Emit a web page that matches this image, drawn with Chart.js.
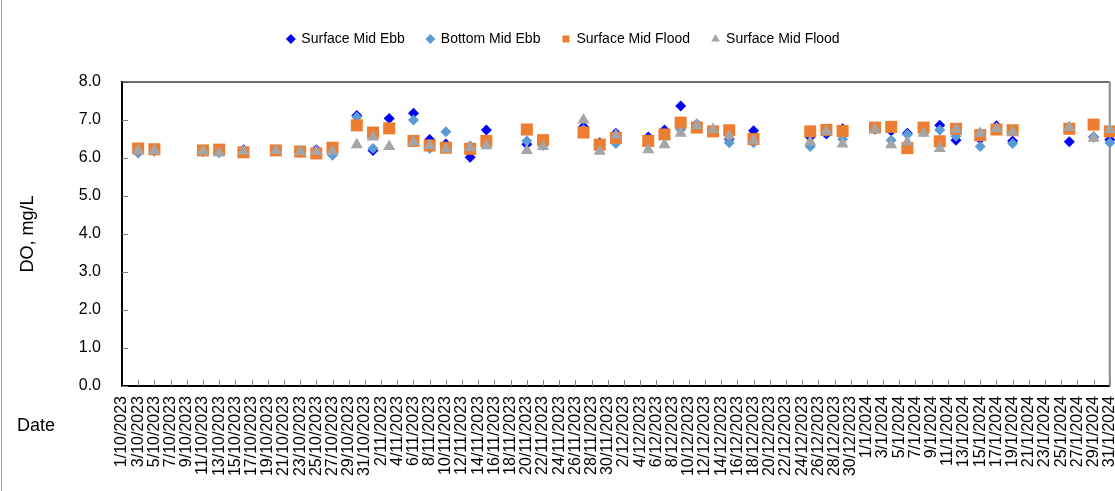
<!DOCTYPE html>
<html>
<head>
<meta charset="utf-8">
<script src="https://cdn.jsdelivr.net/npm/chart.js@4.4.1/dist/chart.umd.min.js"></script>
<style>
  html, body { margin: 0; padding: 0; background: #fff; overflow: hidden; }
  #wrap { position: relative; width: 1139px; height: 491px; }
</style>
</head>
<body>
<div id="wrap"><canvas id="doChart"></canvas></div>
<script>
// one category per day, 1/10/2023 .. 31/1/2024 (labels shown every 2nd day)
const axisStart = new Date(2023, 9, 1);
const axisEnd = new Date(2024, 0, 31);
const dayLabels = [];
for (let d = new Date(axisStart); d <= axisEnd; d.setDate(d.getDate() + 1)) {
    dayLabels.push(d.getDate() + '/' + (d.getMonth() + 1) + '/' + d.getFullYear());
}

const sampleDates = [
    '3/10/2023', '5/10/2023', '11/10/2023', '13/10/2023', '16/10/2023', '20/10/2023',
    '23/10/2023', '25/10/2023', '27/10/2023', '30/10/2023', '1/11/2023', '3/11/2023',
    '6/11/2023', '8/11/2023', '10/11/2023', '13/11/2023', '15/11/2023', '20/11/2023',
    '22/11/2023', '27/11/2023', '29/11/2023', '1/12/2023', '5/12/2023', '7/12/2023',
    '9/12/2023', '11/12/2023', '13/12/2023', '15/12/2023', '18/12/2023', '25/12/2023',
    '27/12/2023', '29/12/2023', '2/1/2024', '4/1/2024', '6/1/2024', '8/1/2024',
    '10/1/2024', '12/1/2024', '15/1/2024', '17/1/2024', '19/1/2024', '26/1/2024',
    '29/1/2024', '31/1/2024'
];

const surfaceMidEbb = [
    6.20, 6.20, 6.18, 6.15, 6.22, 6.20, 6.15, 6.22, 6.20, 7.12, 6.20, 7.04,
    7.18, 6.49, 6.37, 6.02, 6.74, 6.36, 6.35, 6.82, 6.40, 6.65, 6.55, 6.74,
    7.37, 6.85, 6.75, 6.50, 6.72, 6.55, 6.63, 6.77, 6.77, 6.72, 6.65, 6.70,
    6.86, 6.47, 6.50, 6.85, 6.45, 6.43, 6.55, 6.48
];
const bottomMidEbb = [
    6.13, 6.18, 6.18, 6.15, 6.14, 6.20, 6.17, 6.15, 6.07, 7.08, 6.25, 6.80,
    7.00, 6.25, 6.69, 6.32, 6.40, 6.45, 6.33, 6.75, 6.30, 6.38, 6.47, 6.60,
    6.75, 6.90, 6.75, 6.40, 6.40, 6.30, 6.70, 6.50, 6.75, 6.47, 6.62, 6.70,
    6.74, 6.57, 6.30, 6.75, 6.38, 6.78, 6.55, 6.40
];
const surfaceMidFlood = [
    6.25, 6.23, 6.20, 6.22, 6.15, 6.20, 6.17, 6.12, 6.27, 6.86, 6.67, 6.78,
    6.45, 6.33, 6.27, 6.24, 6.45, 6.75, 6.47, 6.67, 6.35, 6.53, 6.45, 6.62,
    6.93, 6.80, 6.70, 6.73, 6.50, 6.70, 6.74, 6.71, 6.80, 6.82, 6.26, 6.80,
    6.44, 6.77, 6.60, 6.75, 6.73, 6.77, 6.88, 6.70
];
const surfaceMidFlood2 = [
    6.20, 6.20, 6.18, 6.13, 6.18, 6.20, 6.17, 6.17, 6.17, 6.35, 6.55, 6.30,
    6.42, 6.32, 6.24, 6.27, 6.32, 6.20, 6.30, 7.00, 6.18, 6.60, 6.22, 6.35,
    6.65, 6.85, 6.75, 6.58, 6.47, 6.42, 6.70, 6.37, 6.75, 6.35, 6.42, 6.65,
    6.25, 6.75, 6.65, 6.77, 6.68, 6.80, 6.52, 6.75
];

const yTicks = [0, 1, 2, 3, 4, 5, 6, 7, 8];

const FONT = '"Liberation Sans", Arial, sans-serif';
Chart.defaults.font.family = FONT;
Chart.defaults.color = '#000';

const pairs = (vals) => sampleDates.map((d, i) => ({ x: d, y: vals[i] }));

const series = (label, vals, style, color, radius, order) => ({
    label: label,
    data: pairs(vals),
    showLine: false,
    pointStyle: style,
    pointRadius: radius,
    pointHoverRadius: radius,
    pointBackgroundColor: color,
    pointBorderColor: color,
    pointBorderWidth: 0,
    backgroundColor: color,
    borderColor: color,
    clip: false,
    order: order
});

// inner tick marks, plot frame, "Date" caption, outer chart edge
const frameAndTicks = {
    id: 'frameAndTicks',
    beforeDatasetsDraw(chart) {
        const { ctx, chartArea: a, scales: { x, y } } = chart;
        ctx.save();
        ctx.strokeStyle = '#808080';
        ctx.lineWidth = 1;
        ctx.beginPath();
        for (let i = 2; i < dayLabels.length; i += 2) {
            const px = Math.round(x.getPixelForValue(i)) + 0.5;
            ctx.moveTo(px, a.bottom);
            ctx.lineTo(px, a.bottom - 6);
        }
        yTicks.forEach(v => {
            const py = Math.round(y.getPixelForValue(v)) + 0.5;
            ctx.moveTo(a.left, py);
            ctx.lineTo(a.left + 6, py);
        });
        ctx.stroke();
        ctx.strokeStyle = '#404040';
        ctx.lineWidth = 1.5;
        ctx.beginPath();
        ctx.moveTo(a.left, a.top);
        ctx.lineTo(a.right, a.top);
        ctx.stroke();
        ctx.strokeStyle = '#8c8c8c';
        ctx.lineWidth = 2;
        ctx.beginPath();
        ctx.moveTo(a.right, a.top);
        ctx.lineTo(a.right, a.bottom);
        ctx.stroke();
        ctx.restore();
    },
    afterDraw(chart) {
        const ctx = chart.ctx;
        ctx.save();
        ctx.font = '18px ' + FONT;
        ctx.fillStyle = '#000';
        ctx.textBaseline = 'middle';
        ctx.fillText('Date', 17, 426);
        ctx.strokeStyle = '#a6a6a6';
        ctx.lineWidth = 1;
        ctx.beginPath();
        ctx.moveTo(1.5, 0);
        ctx.lineTo(1.5, chart.height);
        ctx.stroke();
        ctx.restore();
    }
};

const ctx = document.getElementById('doChart').getContext('2d');
window.doChart = new Chart(ctx, {
    type: 'line',
    data: {
        labels: dayLabels,
        datasets: [
            series('Surface Mid Ebb', surfaceMidEbb, 'rectRot', '#0000ff', 5.5, 4),
            series('Bottom Mid Ebb', bottomMidEbb, 'rectRot', '#5b9bd5', 5.5, 3),
            series('Surface Mid Flood', surfaceMidFlood, 'rect', '#ed7d31', 8.5, 2),
            series('Surface Mid Flood', surfaceMidFlood2, 'triangle', '#a5a5a5', 7, 1)
        ]
    },
    options: {
        responsive: true,
        maintainAspectRatio: false,
        animation: false,
        layout: { padding: { top: 10, left: 0, right: 12, bottom: 0 } },
        plugins: {
            legend: {
                position: 'top',
                weight: 3000,
                labels: {
                    usePointStyle: true,
                    boxWidth: 7,
                    boxHeight: 7,
                    padding: 22,
                    color: '#000',
                    font: { size: 14 },
                    sort: (a, b) => a.datasetIndex - b.datasetIndex
                }
            },
            // empty title used only as a spacer between legend and plot
            title: {
                display: true,
                text: '',
                font: { size: 10, lineHeight: 1 },
                padding: { top: 0, bottom: 16 }
            },
            tooltip: { enabled: false }
        },
        scales: {
            x: {
                type: 'category',
                offset: false,
                grid: { display: false, drawTicks: false },
                border: { display: true, color: '#000', width: 2 },
                ticks: {
                    autoSkip: false,
                    minRotation: 90,
                    maxRotation: 90,
                    padding: 10,
                    font: { size: 16 },
                    color: '#000',
                    callback: (v, i) => (i % 2 === 0 ? dayLabels[i] : null)
                },
                afterFit: (s) => { s.height = 105; }
            },
            y: {
                min: 0,
                max: 8,
                grid: { display: false, drawTicks: false },
                border: { display: true, color: '#000', width: 2 },
                ticks: {
                    stepSize: 1,
                    padding: 21,
                    font: { size: 16 },
                    color: '#000',
                    callback: (v) => Number(v).toFixed(1)
                },
                title: {
                    display: true,
                    text: 'DO, mg/L',
                    font: { size: 18 },
                    color: '#000',
                    padding: { top: 17, bottom: 0 }
                },
                afterFit: (s) => { s.width = 122; }
            }
        }
    },
    plugins: [frameAndTicks]
});
</script>
</body>
</html>
